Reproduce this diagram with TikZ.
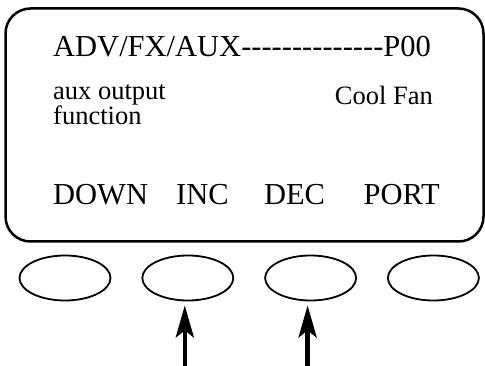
\documentclass[tikz,border=0pt]{standalone}
\usepackage{fontspec}
\setmainfont{Liberation Serif}[Ligatures=TeXOff]
\usepackage{tikz}
\usetikzlibrary{positioning,arrows.meta,shapes.geometric}

\begin{document}
\begin{tikzpicture}[x=1pt, y=-1pt,
	screen/.style = {draw, line width=2.5pt, rounded corners=25pt, minimum width=478pt, minimum height=233pt},
	bignote/.style = {inner sep=0pt, font=\fontsize{30.5}{34}\selectfont},
	smallnote/.style = {inner sep=0pt, align=left, font=\fontsize{26.5}{20}\selectfont},
	keynode/.style = {draw, ellipse, line width=1.8pt, minimum width=91pt, minimum height=45pt, inner sep=0pt},
	push/.style = {line width=4.3pt, -{Stealth[length=32pt, width=18pt, inset=7pt]}, shorten >=4pt},
	node distance=30pt,
]
\useasboundingbox (0,0) rectangle (485,366);

\node[screen] (display) at (244.5,125) {};

\node[bignote, anchor=base west] (path) at (53,57) {ADV/FX/AUX--------------P00};
\node[smallnote, anchor=base west] (param) at (53,125) {aux output\\function};
\node[smallnote, anchor=base east] (value) at (433,105) {Cool Fan};

\node[bignote, anchor=base west] (down) at (53,205) {DOWN};
\node[bignote, anchor=base] (inc) at (202.5,205) {INC};
\node[bignote, anchor=base] (dec) at (294.5,205) {DEC};
\node[bignote, anchor=base east] (port) at (440,205) {PORT};

\node[keynode] (downkey) at (65,278) {};
\node[keynode] (inckey) [right=of downkey] {};
\node[keynode] (deckey) [right=of inckey] {};
\node[keynode] (portkey) [right=of deckey] {};

\coordinate (incfoot) at ([xshift=-3pt]inckey.south |- 0,366);
\coordinate (decfoot) at ([xshift=-3pt]deckey.south |- 0,366);

\draw[push] (incfoot) -- (incfoot |- inckey.south);
\draw[push] (decfoot) -- (decfoot |- deckey.south);

\end{tikzpicture}
\end{document}
